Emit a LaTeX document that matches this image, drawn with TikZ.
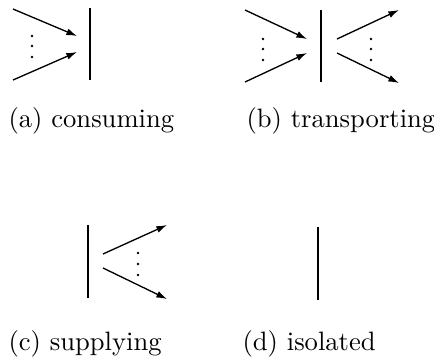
\documentclass[tikz,border=0pt]{standalone}
\usepackage{tikz}
\usetikzlibrary{arrows.meta}

\tikzset{
    flow/.style={-{Latex[length=4pt,width=2.6pt]}, line width=0.5pt},
    bar/.style={line width=0.4pt},
    caption/.style={anchor=base west, inner sep=0pt}
}

\begin{document}
\begin{tikzpicture}[x=0.376pt, y=-0.376pt]
    \useasboundingbox (0,0) rectangle (434,358);

    % (a) consuming
    \draw[bar] (90,8) -- (90,80);
    \draw[flow] (13,9) -- (77,36);
    \draw[flow] (13,80) -- (77,52);
    \foreach \y in {36,46,57} \fill (32,\y) circle (0.55pt);
    \node[caption] (capa) at (8,127) {(a) consuming};

    % (b) transporting
    \draw[bar] (321,10) -- (321,82);
    \draw[flow] (245,10) -- (307,39);
    \draw[flow] (245,82) -- (307,53);
    \draw[flow] (337,39) -- (399,10);
    \draw[flow] (337,53) -- (399,83);
    \foreach \y in {39,49,60} {
        \fill (263,\y) circle (0.55pt);
        \fill (371,\y) circle (0.55pt);
    }
    \node[caption] (capb) at (246,127) {(b) transporting};

    % (c) supplying
    \draw[bar] (88,225) -- (88,298);
    \draw[flow] (103,254) -- (167,225);
    \draw[flow] (103,268) -- (167,299);
    \foreach \y in {253,264,275} \fill (138,\y) circle (0.55pt);
    \node[caption] (capc) at (8,350) {(c) supplying};

    % (d) isolated
    \draw[bar] (318,227) -- (318,300);
    \node[caption] (capd) at (242,350) {(d) isolated};
\end{tikzpicture}
\end{document}
